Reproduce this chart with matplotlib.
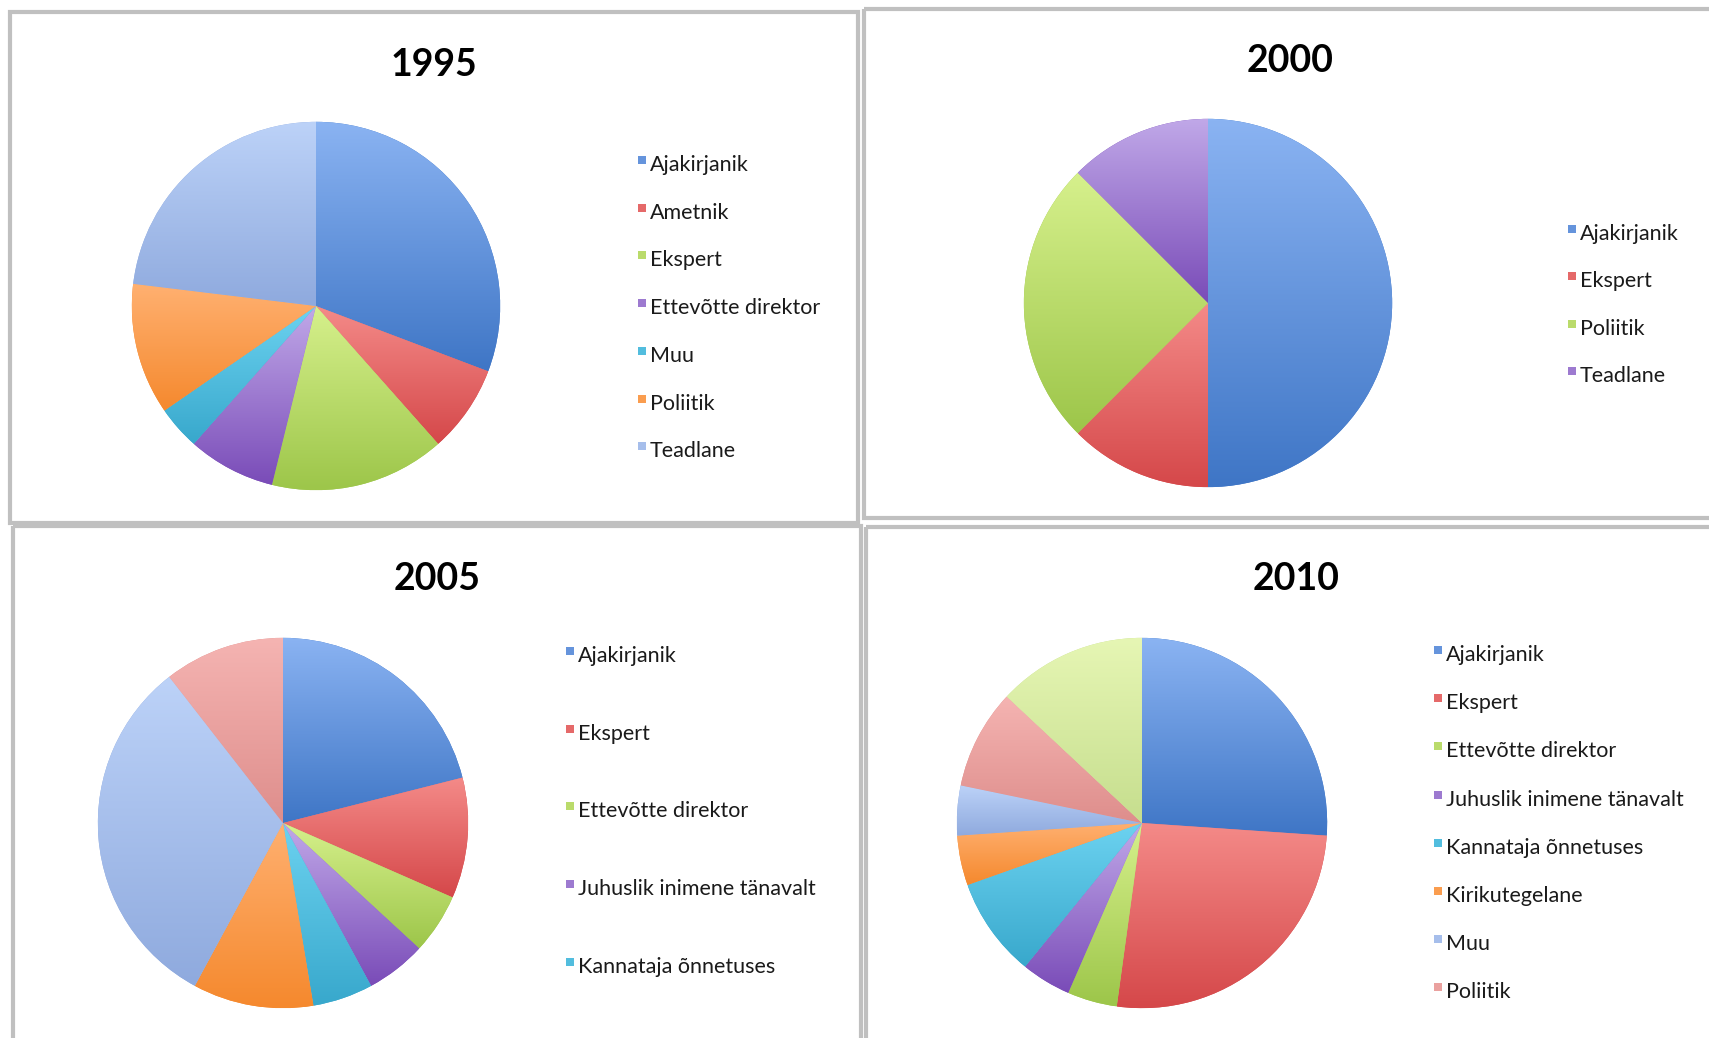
import numpy as np
import matplotlib
matplotlib.use("Agg")
import matplotlib.pyplot as plt
from matplotlib.patches import Rectangle
from matplotlib.colors import to_rgb

plt.rcParams['font.family'] = ['Lato', 'DejaVu Sans']

W, H = 1709, 1038

# data (counts)
labels_1995 = ["Ajakirjanik", "Ametnik", "Ekspert", "Ettevõtte direktor", "Muu", "Poliitik", "Teadlane"]
values_1995 = [8, 2, 4, 2, 1, 3, 6]

labels_2000 = ["Ajakirjanik", "Ekspert", "Poliitik", "Teadlane"]
values_2000 = [4, 1, 2, 1]

labels_2005 = ["Ajakirjanik", "Ekspert", "Ettevõtte direktor", "Juhuslik inimene tänavalt",
               "Kannataja õnnetuses", "Muu", "Poliitik", "Teadlane"]
values_2005 = [4, 2, 1, 1, 1, 2, 6, 2]

labels_2010 = ["Ajakirjanik", "Ekspert", "Ettevõtte direktor", "Juhuslik inimene tänavalt",
               "Kannataja õnnetuses", "Kirikutegelane", "Muu", "Poliitik", "Teadlane"]
values_2010 = [6, 6, 1, 1, 2, 1, 1, 2, 3]

# excel 2011 style gradient fills: (top, bottom) per series
grad_top = ["#8AB3F2", "#F48A88", "#D6F08C", "#C0A8E8", "#6CD2F0", "#FFB070",
            "#BCD2F8", "#F5B4B2", "#E6F6B4"]
grad_bot = ["#3F76C6", "#D5484A", "#9DC64A", "#7A4CB8", "#38A8CC", "#F5892E",
            "#8FAADE", "#DE8E8C", "#C6DE8E"]


def gradient_pie(ax, values):
    n = len(values)
    wedges, _ = ax.pie(values, colors=grad_bot[:n], startangle=90,
                       counterclock=False, radius=1,
                       wedgeprops=dict(linewidth=0))
    for i, w in enumerate(wedges):
        ext = w.get_path().get_extents()
        top = np.array(to_rgb(grad_top[i]))
        bot = np.array(to_rgb(grad_bot[i]))
        t = np.linspace(0, 1, 64)[:, None]
        img = top[None, :] * (1 - t) + bot[None, :] * t
        img = img[:, None, :].repeat(2, axis=1)
        im = ax.imshow(img, extent=[ext.x0, ext.x1, ext.y0, ext.y1],
                       origin="upper", aspect="auto", interpolation="bilinear",
                       zorder=2)
        im.set_clip_path(w)
    ax.set_xlim(-1.01, 1.01)
    ax.set_ylim(-1.01, 1.01)
    ax.set_aspect("equal")
    ax.axis("off")


fig = plt.figure(figsize=(W / 100, H / 100), dpi=100)
bg = fig.add_axes([0, 0, 1, 1])
bg.set_xlim(0, W)
bg.set_ylim(H, 0)
bg.axis("off")

# panel frames (left, top, right, bottom)
frames = [(10, 12, 858, 523), (864, 9, 1720, 518), (13, 526, 861, 1050), (866, 527, 1720, 1050)]
for x0, y0, x1, y1 in frames:
    bg.add_patch(Rectangle((x0, y0), x1 - x0, y1 - y0, fill=False,
                           edgecolor="#C0C0C0", linewidth=3))

panels = [
    ("1995", labels_1995, values_1995, (316, 306, 186), (434, 65), (642, 165, 47.7), 7),
    ("2000", labels_2000, values_2000, (1208, 303, 186), (1290, 61), (1572, 234, 47.3), 4),
    ("2005", labels_2005, values_2005, (283, 823, 187), (437, 579), (570, 656, 77.7), 5),
    ("2010", labels_2010, values_2010, (1142, 823, 187), (1296, 579), (1438, 655, 48.2), 8),
]

for title, labels, values, (cx, cy, r), (tx, ty), (lx, ly, dy), nshow in panels:
    ax = fig.add_axes([(cx - r) / W, 1 - (cy + r) / H, 2 * r / W, 2 * r / H])
    gradient_pie(ax, values)
    bg.text(tx, ty, title, ha="center", va="center", fontsize=27,
            fontweight="bold", color="black")
    for i in range(nshow):
        y = ly + i * dy
        mid = (np.array(to_rgb(grad_top[i])) + np.array(to_rgb(grad_bot[i]))) / 2
        bg.add_patch(Rectangle((lx - 4, y - 9), 8, 8, color=mid, linewidth=0))
        bg.text(lx + 8, y, labels[i], ha="left", va="center", fontsize=15.5,
                color="#1a1a1a")

fig.savefig("out.png", dpi=100)
